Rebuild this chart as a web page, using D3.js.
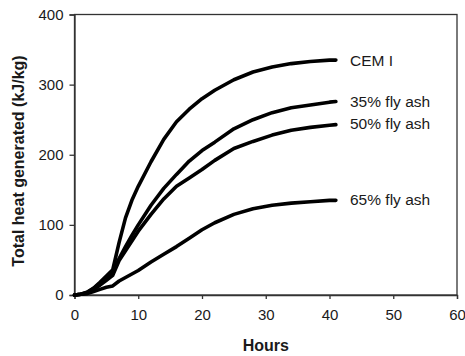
<!DOCTYPE html>
<html>
<head>
<meta charset="utf-8">
<script src="https://cdn.jsdelivr.net/npm/d3@7"></script>
<style>
  html, body { margin: 0; padding: 0; background: #fff; }
  svg { display: block; }
  text { font-family: Arial, "Liberation Sans", sans-serif; fill: #1a1a1a; }
</style>
</head>
<body>
<svg id="chart" width="465" height="356"></svg>
<script>
// Data
const hours     = [0, 1, 2, 3, 4, 5, 6, 7, 8, 9, 10, 12, 14, 16, 18, 20, 22, 25, 28, 31, 34, 37, 40, 41];
const cemI      = [0, 1, 4, 10, 18, 27, 36, 75, 110, 135, 155, 190, 222, 247, 265, 280, 292, 307, 318, 325, 330, 333, 335, 335];
const flyAsh35  = [0, 1, 4, 9, 17, 25, 33, 52, 69, 85, 100, 128, 152, 172, 191, 206, 218, 237, 250, 260, 267, 271, 275, 276];
const flyAsh50  = [0, 1, 3, 8, 14, 21, 28, 49, 63, 77, 91, 115, 137, 155, 167, 179, 192, 209, 219, 228, 235, 239, 242, 243];
const flyAsh65  = [0, 1, 2, 5, 8, 11, 13, 20, 25, 30, 35, 47, 58, 69, 81, 93, 103, 115, 123, 128, 131, 133, 135, 135];
const seriesNames = ["CEM I", "35% fly ash", "50% fly ash", "65% fly ash"];
const seriesValues = [cemI, flyAsh35, flyAsh50, flyAsh65];
const xTicks = [0, 10, 20, 30, 40, 50, 60];
const yTicks = [0, 100, 200, 300, 400];

const svg = d3.select("#chart");
const mLeft = 74.5, mRight = 457, mTop = 14.5, mBottom = 295;

const x = d3.scaleLinear().domain([0, 60]).range([mLeft, mRight]);
const y = d3.scaleLinear().domain([0, 400]).range([mBottom, mTop]);

// frame
svg.append("rect")
  .attr("x", mLeft).attr("y", mTop)
  .attr("width", mRight - mLeft).attr("height", mBottom - mTop)
  .attr("fill", "none").attr("stroke", "#333").attr("stroke-width", 1.3);

const xAxis = svg.append("g")
  .attr("transform", `translate(0,${mBottom})`)
  .call(d3.axisBottom(x).tickValues(xTicks).tickSize(4).tickPadding(13).tickFormat(d3.format("d")));
const yAxis = svg.append("g")
  .attr("transform", `translate(${mLeft},0)`)
  .call(d3.axisLeft(y).tickValues(yTicks).tickSize(5).tickPadding(6).tickFormat(d3.format("d")));

[xAxis, yAxis].forEach(g => {
  g.select(".domain").attr("stroke", "#333").attr("stroke-width", 1.3);
  g.selectAll(".tick line").attr("stroke", "#333").attr("stroke-width", 1.3);
  g.selectAll(".tick text").attr("font-size", 15).attr("font-family", "Arial, 'Liberation Sans', sans-serif").attr("fill", "#1a1a1a");
});
xAxis.selectAll(".tick text").attr("dy", "0.5em");

// lines
const line = d3.line()
  .x((d, i) => x(hours[i]))
  .y(d => y(d))
  .curve(d3.curveLinear);

seriesValues.forEach(vals => {
  svg.append("path")
    .datum(vals)
    .attr("d", line)
    .attr("fill", "none")
    .attr("stroke", "#000")
    .attr("stroke-width", 3.6)
    .attr("stroke-linejoin", "round")
    .attr("stroke-linecap", "round");
});

// series labels
const labelY = [60, 101, 123.5, 199.5];
seriesNames.forEach((name, i) => {
  svg.append("text")
    .attr("x", 350)
    .attr("y", labelY[i])
    .attr("dy", "0.36em")
    .attr("font-size", 15.5)
    .text(name);
});

// axis titles
svg.append("text")
  .attr("x", (mLeft + mRight) / 2)
  .attr("y", 351)
  .attr("text-anchor", "middle")
  .attr("font-size", 16)
  .attr("font-weight", "bold")
  .text("Hours");

svg.append("text")
  .attr("transform", `translate(24,161) rotate(-90)`)
  .attr("text-anchor", "middle")
  .attr("font-size", 16)
  .attr("font-weight", "bold")
  .text("Total heat generated (kJ/kg)");
</script>
</body>
</html>
